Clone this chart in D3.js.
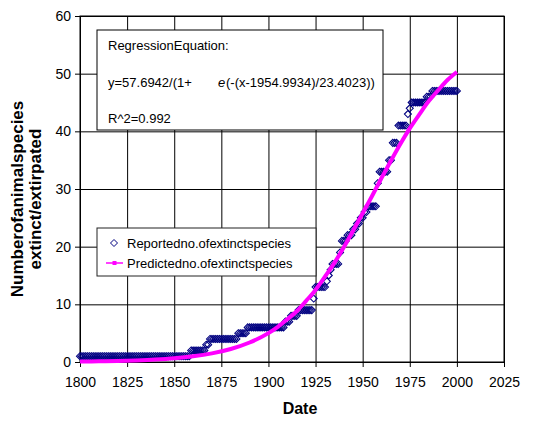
<!DOCTYPE html>
<html>
<head>
<meta charset="utf-8">
<script src="https://cdn.jsdelivr.net/npm/d3@7"></script>
<style>
  body { margin: 0; background: #fff; }
  svg { font-family: "Liberation Sans", Arial, sans-serif; }
  .axis text { font-size: 14px; fill: #000; }
  .axis path, .axis line { stroke: #000; }
  .grid line { stroke: #000; stroke-width: 1; }
  .grid path { stroke: none; }
  .box-text { font-size: 13px; fill: #000; }
  .title { font-weight: bold; fill: #000; }
</style>
</head>
<body>
<script>
// reported number of extinct species, one value per year starting in 1800
var reportedStart = 1800;
var reported = [
    1,1,1,1,1,1,1,1,1,1,          // 1800s
    1,1,1,1,1,1,1,1,1,1,          // 1810s
    1,1,1,1,1,1,1,1,1,1,          // 1820s
    1,1,1,1,1,1,1,1,1,1,          // 1830s
    1,1,1,1,1,1,1,1,1,1,          // 1840s
    1,1,1,1,1,1,1,1,1,2,          // 1850s
    2,2,2,2,2,2,2,3,3,4,          // 1860s
    4,4,4,4,4,4,4,4,4,4,          // 1870s
    4,4,4,4,5,5,5,5,5,6,          // 1880s
    6,6,6,6,6,6,6,6,6,6,          // 1890s
    6,6,6,6,6,6,6,6,6,7,          // 1900s
    7,7,8,8,8,8,9,9,9,9,          // 1910s
    9,9,9,9,11,13,13,13,13,13,    // 1920s
    13,14,15,16,17,17,17,17,19,21,// 1930s
    21,21,22,22,22,23,23,24,24,25,// 1940s
    25,26,26,27,27,27,27,27,31,33,// 1950s
    33,33,33,33,35,35,38,38,38,41,// 1960s
    41,41,41,41,43,44,45,45,45,45,// 1970s
    45,45,45,45,46,46,46,47,47,47,// 1980s
    47,47,47,47,47,47,47,47,47,47,// 1990s
    47                            // 2000
];

// predicted curve
var predYears  = [1800, 1810, 1820, 1830, 1840, 1850, 1860, 1870, 1880, 1890, 1900,
                  1905, 1910, 1915, 1920, 1925, 1930, 1935, 1940, 1945, 1950,
                  1955, 1960, 1965, 1970, 1975, 1980, 1985, 1990, 1995, 2000];
var predValues = [0.08, 0.12, 0.18, 0.28, 0.42, 0.64, 0.98, 1.49, 2.25, 3.38, 5.0,
                  6.1, 7.4, 8.8, 10.6, 12.5, 14.8, 17.2, 19.9, 22.8, 25.8,
                  28.8, 31.9, 34.9, 37.8, 40.5, 42.9, 45.2, 47.1, 48.9, 50.3];

var xTicks = [1800, 1825, 1850, 1875, 1900, 1925, 1950, 1975, 2000, 2025];
var yTicks = [0, 10, 20, 30, 40, 50, 60];

var seriesNames = ["Reportedno.ofextinctspecies", "Predictedno.ofextinctspecies"];
var equationLines = ["RegressionEquation:", "y=57.6942/(1+", "e", "(-(x-1954.9934)/23.4023))", "R^2=0.992"];

var margin = {top: 16, right: 43, bottom: 60, left: 80},
    width = 547 - margin.left - margin.right,
    height = 422 - margin.top - margin.bottom;

var svg = d3.select("body").append("svg")
    .attr("width", 547)
    .attr("height", 422)
    .append("g")
    .attr("transform", "translate(" + margin.left + "," + margin.top + ")");

var x = d3.scaleLinear().domain([1800, 2025]).range([0, width]);
var y = d3.scaleLinear().domain([0, 60]).range([height, 0]);

svg.append("rect")
    .attr("width", width)
    .attr("height", height)
    .attr("fill", "#fff");

// grid
svg.append("g")
    .attr("class", "grid")
    .attr("transform", "translate(0," + height + ")")
    .call(d3.axisBottom(x).tickValues(xTicks).tickSize(-height).tickFormat(""));
svg.append("g")
    .attr("class", "grid")
    .call(d3.axisLeft(y).tickValues(yTicks).tickSize(-width).tickFormat(""));

svg.append("rect")
    .attr("width", width)
    .attr("height", height)
    .attr("fill", "none")
    .attr("stroke", "#000");

svg.append("g")
    .attr("class", "axis")
    .attr("transform", "translate(0," + height + ")")
    .call(d3.axisBottom(x).tickValues(xTicks).tickSize(5).tickSizeOuter(0).tickPadding(10).tickFormat(d3.format("d")));
svg.append("g")
    .attr("class", "axis")
    .call(d3.axisLeft(y).tickValues(yTicks).tickSize(5).tickSizeOuter(0).tickPadding(4));

// reported points
var diamond = "M0,-3.5L3.5,0L0,3.5L-3.5,0Z";
svg.append("g")
    .selectAll("path")
    .data(reported)
    .enter()
    .append("path")
    .attr("d", diamond)
    .attr("transform", (d, i) => "translate(" + x(reportedStart + i) + "," + y(d) + ")")
    .attr("fill", "none")
    .attr("stroke", "#000080")
    .attr("stroke-width", 1.1);

// predicted curve
var line = d3.line()
    .x((d, i) => x(predYears[i]))
    .y(d => y(d))
    .curve(d3.curveMonotoneX);
svg.append("path")
    .attr("d", line(predValues))
    .attr("fill", "none")
    .attr("stroke", "#ff00ff")
    .attr("stroke-width", 4);

// equation box
var eq = svg.append("g").attr("transform", "translate(17,14)");
eq.append("rect")
    .attr("width", 286)
    .attr("height", 100)
    .attr("fill", "#fff")
    .attr("stroke", "#000");
eq.append("text").attr("class", "box-text").attr("x", 11).attr("y", 20).text(equationLines[0]);
eq.append("text").attr("class", "box-text").attr("x", 11).attr("y", 57).text(equationLines[1]);
eq.append("text").attr("class", "box-text").attr("x", 121).attr("y", 57)
    .style("font-style", "italic").text(equationLines[2]);
eq.append("text").attr("class", "box-text").attr("x", 129).attr("y", 57).text(equationLines[3]);
eq.append("text").attr("class", "box-text").attr("x", 11).attr("y", 93).text(equationLines[4]);

// legend
var legend = svg.append("g").attr("transform", "translate(17,212)");
legend.append("rect")
    .attr("width", 219)
    .attr("height", 48)
    .attr("fill", "#fff")
    .attr("stroke", "#222");
legend.append("path")
    .attr("d", diamond)
    .attr("transform", "translate(17,15)")
    .attr("fill", "#fff")
    .attr("stroke", "#000080");
legend.append("line")
    .attr("x1", 9).attr("x2", 26).attr("y1", 35).attr("y2", 35)
    .attr("stroke", "#ff00ff").attr("stroke-width", 1.5);
legend.append("rect")
    .attr("x", 15.5).attr("y", 33).attr("width", 4).attr("height", 4)
    .attr("fill", "#ff00ff");
legend.selectAll(".legend-text")
    .data(seriesNames)
    .enter()
    .append("text")
    .attr("class", "box-text")
    .attr("x", 30)
    .attr("y", (d, i) => 15 + i * 20)
    .attr("dy", "0.35em")
    .text(d => d);

// axis titles
svg.append("text")
    .attr("class", "title")
    .attr("x", width / 2 + 8)
    .attr("y", height + 52)
    .attr("text-anchor", "middle")
    .style("font-size", "16px")
    .text("Date");

var yTitle = svg.append("text")
    .attr("class", "title")
    .attr("transform", "translate(" + (-57) + "," + (height / 2 + 10) + ") rotate(-90)")
    .attr("text-anchor", "middle")
    .style("font-size", "17px");
yTitle.append("tspan").attr("x", 0).attr("dy", 0).text("Numberofanimalspecies");
yTitle.append("tspan").attr("x", 0).attr("dy", "1.05em").text("extinct/extirpated");
</script>
</body>
</html>
